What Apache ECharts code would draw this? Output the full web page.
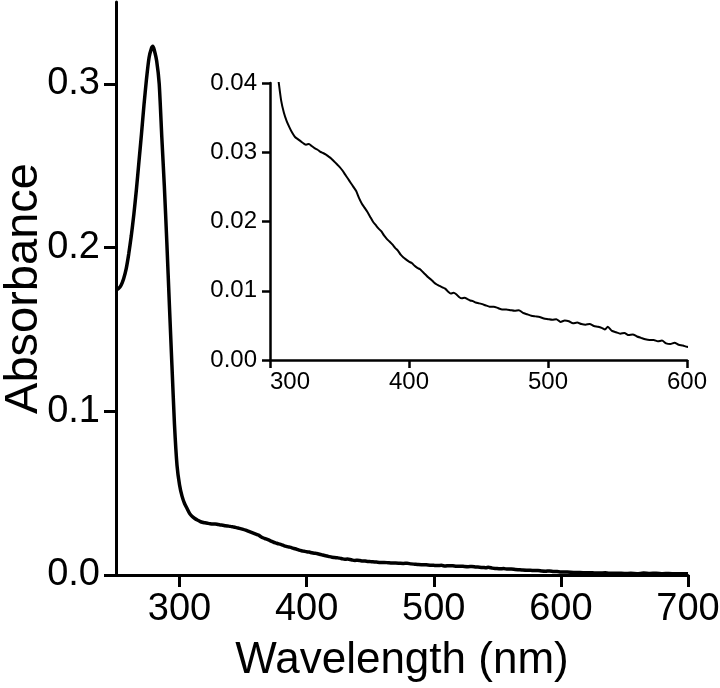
<!DOCTYPE html>
<html>
<head>
<meta charset="utf-8">
<script src="https://cdn.jsdelivr.net/npm/echarts@6/dist/echarts.min.js"></script>
<style>html,body{margin:0;padding:0;background:#fff}#c{width:720px;height:688px}</style>
</head>
<body>
<div id="c"></div>
<script>
const wavelength = [250,252,254,256,258,260,262,264,266,268,270,272,274,276,278,279,280,282,284,286,288,290,292,294,296,298,300,302,304,306,308,310,
312,314,316,318,320,322,324,326,328,330,332,334,336,338,340,342,344,346,348,350,352,354,356,358,360,362,364,366,368,370,372,374,376,378,380,
382,384,386,388,390,392,394,396,398,400,402,404,406,408,410,412,414,416,418,420,422,424,426,428,430,432,434,436,438,440,442,444,446,448,450,452,
455,458,461,464,467,470,473,476,479,482,485,488,491,494,497,500,503,506,509,512,515,518,521,524,527,530,533,536,539,541,543,546,549,552,555,558,561,564,567,570,573,576,579,582,585,588,591,594,597,600,
605,610,615,620,625,630,635,640,645,650,655,660,665,670,675,680,685,690,695,700];
const absorbance = [0.174,0.175,0.177,0.181,0.187,0.196,0.207,0.220,0.235,0.252,0.269,0.287,0.303,0.316,0.322,0.323,0.321,0.314,0.300,0.268,0.238,0.203,0.165,0.128,0.092,0.067,0.055,0.048,0.0435,0.0405,0.0375,0.0357,
0.0345,0.0336,0.0328,0.0322,0.0319,0.0316,0.0313,0.0311,0.0312,0.0309,0.0306,0.0304,0.0301,0.0299,0.0297,0.0294,0.0291,0.0287,0.0283,0.0279,0.0274,0.0268,0.0262,0.0256,0.0250,0.0244,0.0234,0.0226,0.0220,0.0214,0.0207,0.0200,0.0195,0.0190,0.0186,
0.0180,0.0175,0.0171,0.0167,0.0162,0.0158,0.0152,0.0148,0.0145,0.0142,0.0140,0.0136,0.0133,0.0131,0.0127,0.0123,0.0119,0.0116,0.0112,0.0109,0.0107,0.0105,0.0103,0.0099,0.0096,0.0097,0.0095,0.0091,0.0089,0.0090,0.0088,0.0086,0.0085,0.0083,0.0082,0.0081,
0.0079,0.0077,0.0077,0.0075,0.0073,0.0073,0.0072,0.0071,0.0072,0.0068,0.0066,0.0064,0.0063,0.0062,0.0060,0.0059,0.0058,0.0059,0.0055,0.0057,0.0056,0.0053,0.0054,0.0052,0.0051,0.0052,0.0049,0.0048,0.0046,0.0044,0.0048,0.0042,0.0040,0.0038,0.0039,0.0036,0.0037,0.0034,0.0032,0.0030,0.0029,0.0029,0.0027,0.0028,0.0024,0.0023,0.0025,0.0022,0.0021,0.0019,
0.0018,0.0016,0.0015,0.0014,0.0013,0.0012,0.0013,0.0010,0.0011,0.0009,0.0010,0.0008,0.0012,0.0009,0.0011,0.0008,0.0009,0.0007,0.0008,0.0007];
const mainXTicks = [300,400,500,600,700];
const mainYTicks = [0,0.1,0.2,0.3];
const insetXTicks = [300,400,500,600];
const insetYTicks = [0,0.01,0.02,0.03,0.04];

const pts = wavelength.map((w,i)=>[w,absorbance[i]]);
const FONT = "'Liberation Sans', Arial, sans-serif";
const chart = echarts.init(document.getElementById('c'), null, {renderer:'canvas'});
chart.setOption({
  animation:false,
  backgroundColor:'#fff',
  grid:[
    {left:116, right:32, top:2, bottom:113, containLabel:false, outerBoundsMode:'none'},
    {left:270, right:33, top:83, bottom:328, containLabel:false, outerBoundsMode:'none'}
  ],
  xAxis:[
    {gridIndex:0, type:'value', min:250, max:700, splitLine:{show:false},
     name:'Wavelength (nm)', nameLocation:'middle', nameGap:64, nameMoveOverlap:false,
     nameTextStyle:{fontFamily:FONT, fontSize:44, color:'#000'},
     axisLine:{lineStyle:{color:'#000', width:3}},
     axisTick:{customValues:mainXTicks, length:12, lineStyle:{color:'#000', width:3}},
     axisLabel:{customValues:mainXTicks, margin:16, fontFamily:FONT, fontSize:38, color:'#000'}},
    {gridIndex:1, type:'value', min:300, max:600, splitLine:{show:false},
     axisLine:{lineStyle:{color:'#000', width:2.5}},
     axisTick:{customValues:insetXTicks, length:8, lineStyle:{color:'#000', width:2.5}},
     axisLabel:{customValues:insetXTicks, margin:10, fontFamily:FONT, fontSize:24, color:'#000', alignMinLabel:'left'}}
  ],
  yAxis:[
    {gridIndex:0, type:'value', min:0, max:0.35, splitLine:{show:false},
     name:'Absorbance', nameLocation:'middle', nameGap:68, nameMoveOverlap:false,
     nameTextStyle:{fontFamily:FONT, fontSize:47, color:'#000'},
     axisLine:{show:true, lineStyle:{color:'#000', width:3}},
     axisTick:{show:true, customValues:mainYTicks, length:12, lineStyle:{color:'#000', width:3}},
     axisLabel:{customValues:mainYTicks, margin:16, fontFamily:FONT, fontSize:38, color:'#000', formatter:v=>v.toFixed(1)}},
    {gridIndex:1, type:'value', min:0, max:0.04, splitLine:{show:false},
     axisLine:{show:true, lineStyle:{color:'#000', width:2.5}},
     axisTick:{show:true, customValues:insetYTicks, length:8, lineStyle:{color:'#000', width:2.5}},
     axisLabel:{customValues:insetYTicks, margin:13, fontFamily:FONT, fontSize:24, color:'#000', formatter:v=>v.toFixed(2)}}
  ],
  series:[
    {type:'line', xAxisIndex:0, yAxisIndex:0, data:pts, showSymbol:false, smooth:0.2,
     lineStyle:{color:'#000', width:3.5}, clip:true},
    {type:'line', xAxisIndex:1, yAxisIndex:1, data:pts, showSymbol:false, smooth:0.2,
     lineStyle:{color:'#000', width:2}, clip:true}
  ]
});
</script>
</body>
</html>
